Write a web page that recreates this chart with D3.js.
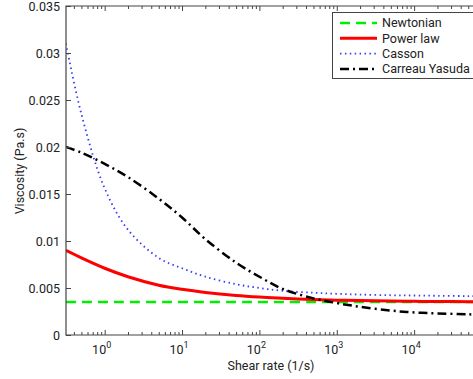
<!DOCTYPE html>
<html lang="en">

<head>
    <title>Viscosity models</title>
    <meta charset="utf-8" />
    <script src="https://d3js.org/d3.v7.min.js"></script>
    <style>
        body,
        html {
            margin: 0;
            padding: 0;
            width: 100%;
            height: 100%;
            overflow: hidden;
            background: #fff;
        }

        text {
            font-family: Roboto, "Liberation Sans", sans-serif;
            fill: #222;
        }
    </style>
</head>

<body>
    <div id="chart"></div>
    <script>
        // shear rates (1/s) at which the curves were read
        const shearRates = [0.316, 0.5, 1, 2, 5, 10, 20, 50, 100, 200, 500, 1000, 2000, 5000, 1e4, 2e4, 5e4, 1e5];

        const newtonian = [0.0035, 0.0035, 0.0035, 0.0035, 0.0035, 0.0035, 0.0035, 0.0035, 0.0035, 0.0035,
            0.0035, 0.0035, 0.0035, 0.0035, 0.0035, 0.0035, 0.0035, 0.0035];
        const powerLaw = [0.0090, 0.0082, 0.0071, 0.0062, 0.0053, 0.00486, 0.00453, 0.00421, 0.00404, 0.00391,
            0.00378, 0.00371, 0.00366, 0.00361, 0.00358, 0.00357, 0.00355, 0.00354];
        const casson = [0.0310, 0.0235, 0.0156, 0.0112, 0.0082, 0.0071, 0.0062, 0.0054, 0.0050, 0.0047,
            0.0045, 0.00438, 0.0043, 0.00423, 0.0042, 0.00417, 0.00414, 0.00412];
        const carreauYasuda = [0.0200, 0.0194, 0.0182, 0.0168, 0.0145, 0.0125, 0.0102, 0.0077, 0.0062, 0.0049,
            0.0039, 0.0034, 0.0030, 0.0026, 0.0024, 0.0023, 0.0022, 0.00215];

        const seriesNames = ["Newtonian", "Power law", "Casson", "Carreau Yasuda"];
        const yTicks = [0, 0.005, 0.01, 0.015, 0.02, 0.025, 0.03, 0.035];
        const xMajorExp = [0, 1, 2, 3, 4];

        const series = [
            { name: seriesNames[0], values: newtonian, color: "#00ee00", width: 2.5, dash: "10,6" },
            { name: seriesNames[1], values: powerLaw, color: "#ff0000", width: 3, dash: null },
            { name: seriesNames[2], values: casson, color: "#3a3aff", width: 1.8, dash: "1.5,3.4" },
            { name: seriesNames[3], values: carreauYasuda, color: "#000000", width: 2.5, dash: "9,4,2,4" }
        ];

        const width = 473, height = 379;
        const mLeft = 66, mTop = 6, mBottom = 335, xEnd = 491.5;

        const svg = d3.select("#chart").append("svg")
            .attr("width", width)
            .attr("height", height);

        // log x axis, right end lies outside the window (cropped figure)
        const x = d3.scaleLog()
            .domain([Math.pow(10, -0.5), 1e5])
            .range([mLeft, xEnd]);
        const y = d3.scaleLinear()
            .domain([0, 0.035])
            .range([mBottom, mTop]);

        // minor ticks of log axis
        const minorTicks = [];
        for (let e = -1; e <= 4; e++) {
            for (let m = 2; m <= 9; m++) {
                const v = m * Math.pow(10, e);
                if (v > x.domain()[0] && v < x.domain()[1]) minorTicks.push(v);
            }
        }
        const majorTicks = xMajorExp.map(e => Math.pow(10, e));

        const axisColor = "#444";

        // curves
        const line = d3.line()
            .x((d, i) => x(shearRates[i]))
            .y(d => y(d))
            .curve(d3.curveCatmullRom.alpha(0.5));

        const plot = svg.append("g");
        plot.append("clipPath").attr("id", "clip")
            .append("rect")
            .attr("x", mLeft).attr("y", mTop)
            .attr("width", xEnd - mLeft).attr("height", mBottom - mTop);

        plot.selectAll("path.series")
            .data(series)
            .enter().append("path")
            .attr("class", "series")
            .attr("clip-path", "url(#clip)")
            .attr("fill", "none")
            .attr("stroke", d => d.color)
            .attr("stroke-width", d => d.width)
            .attr("stroke-dasharray", d => d.dash)
            .attr("d", d => line(d.values));

        // bottom axis
        const gx = svg.append("g").attr("transform", `translate(0,${mBottom})`);
        gx.call(d3.axisBottom(x).tickValues(minorTicks).tickSizeInner(-3).tickSizeOuter(0).tickFormat(""));
        gx.append("g").call(d3.axisBottom(x).tickValues(majorTicks).tickSizeInner(-5).tickSizeOuter(0).tickFormat(""));
        gx.selectAll(".domain").remove();

        // top axis
        const gt = svg.append("g").attr("transform", `translate(0,${mTop})`);
        gt.call(d3.axisTop(x).tickValues(minorTicks).tickSizeInner(-3).tickSizeOuter(0).tickFormat(""));
        gt.append("g").call(d3.axisTop(x).tickValues(majorTicks).tickSizeInner(-5).tickSizeOuter(0).tickFormat(""));
        gt.selectAll(".domain").remove();

        // left axis
        const gy = svg.append("g").attr("transform", `translate(${mLeft},0)`);
        gy.call(d3.axisLeft(y).tickValues(yTicks).tickSizeInner(-5).tickSizeOuter(0).tickPadding(6)
            .tickFormat(d => d === 0 ? "0" : d3.format("")(+d.toFixed(3))));
        gy.selectAll(".domain").remove();
        gy.selectAll("text").style("font-size", "12.5px").attr("fill", "#222");

        svg.selectAll(".tick line").attr("stroke", axisColor);

        // frame
        svg.append("path")
            .attr("d", `M${width + 2},${mTop}H${mLeft}V${mBottom}H${width + 2}`)
            .attr("fill", "none")
            .attr("stroke", axisColor)
            .attr("stroke-width", 1.2);

        // x tick labels 10^n
        const xl = svg.append("g").selectAll("text")
            .data(xMajorExp)
            .enter().append("text")
            .attr("x", d => x(Math.pow(10, d)) - 3)
            .attr("y", 354)
            .attr("text-anchor", "middle")
            .style("font-size", "12.5px");
        xl.append("tspan").text("10");
        xl.append("tspan").attr("dy", -6).style("font-size", "9px").text(d => d);

        // axis titles
        svg.append("text")
            .attr("x", 271)
            .attr("y", 370)
            .attr("text-anchor", "middle")
            .style("font-size", "12.5px")
            .text("Shear rate (1/s)");
        svg.append("text")
            .attr("transform", "translate(24,171) rotate(-90)")
            .attr("text-anchor", "middle")
            .style("font-size", "12.5px")
            .text("Viscosity (Pa.s)");

        // legend
        const lg = svg.append("g");
        lg.append("rect")
            .attr("x", 332.5).attr("y", 12.5)
            .attr("width", 160).attr("height", 66)
            .attr("fill", "#fff")
            .attr("stroke", axisColor)
            .attr("stroke-width", 1);
        const row = lg.selectAll("g.row")
            .data(series)
            .enter().append("g")
            .attr("class", "row")
            .attr("transform", (d, i) => `translate(0,${23 + i * 15.3})`);
        row.append("line")
            .attr("x1", 340).attr("x2", 377)
            .attr("stroke", d => d.color)
            .attr("stroke-width", d => d.width)
            .attr("stroke-dasharray", d => d.dash);
        row.append("text")
            .attr("x", 382)
            .attr("dy", "0.35em")
            .style("font-size", "12.5px")
            .text(d => d.name);
    </script>
</body>

</html>
